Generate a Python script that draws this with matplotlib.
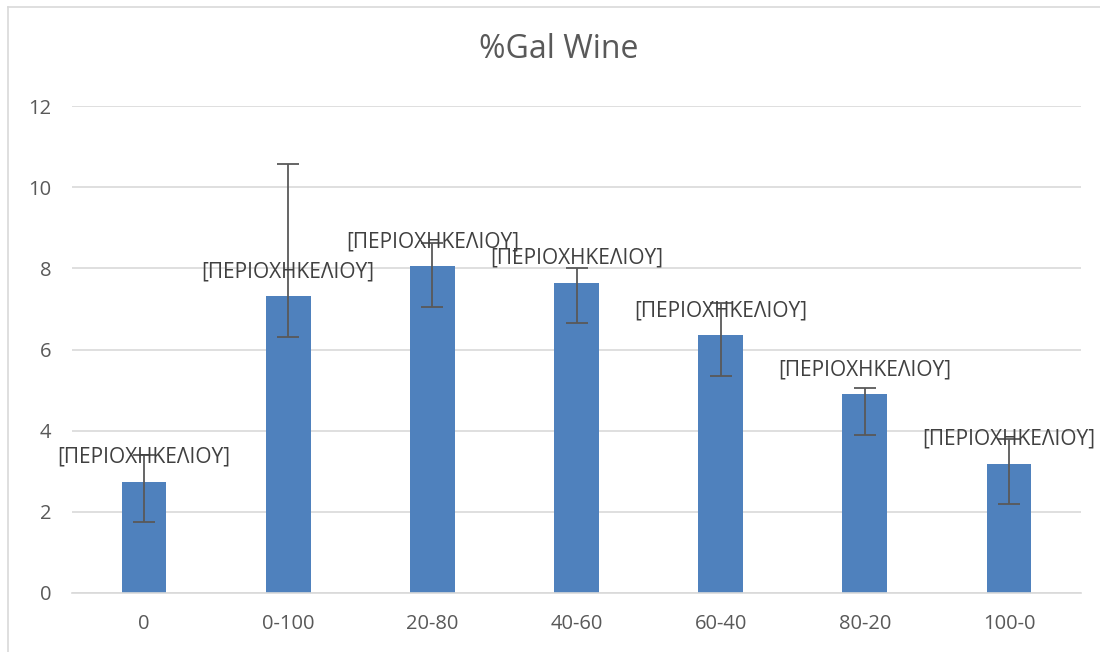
import matplotlib
matplotlib.use("Agg")
import matplotlib.pyplot as plt
from matplotlib.lines import Line2D
import numpy as np

categories = ["0", "0-100", "20-80", "40-60", "60-40", "80-20", "100-0"]
values = [2.74, 7.31, 8.05, 7.65, 6.35, 4.90, 3.19]
err_low = [1.0, 1.0, 1.0, 1.0, 1.0, 1.0, 1.0]
err_high = [0.67, 3.25, 0.58, 0.35, 0.80, 0.14, 0.60]
label_text = "[ΠΕΡΙΟΧΗΚΕΛΙΟΥ]"
title = "%Gal Wine"

plt.rcParams["font.family"] = ["Open Sans", "DejaVu Sans"]

W, H = 1100, 652
fig = plt.figure(figsize=(W / 100, H / 100), dpi=100)
ax = fig.add_axes([72 / W, 59 / H, (1081 - 72) / W, (593 - 106) / H])

x = np.arange(len(categories))
ax.bar(x, values, width=0.31, color="#4F81BD", zorder=2)
ax.errorbar(x, values, yerr=[err_low, err_high], fmt="none",
            ecolor="#595959", elinewidth=1.3, capsize=8, capthick=1.3, zorder=3)

for xi, v in zip(x, values):
    ax.annotate(label_text, (xi, v), xytext=(0, 10), textcoords="offset points",
                ha="center", va="bottom", fontsize=15, color="#404040", zorder=4)

ax.set_xlim(-0.5, len(categories) - 0.5)
ax.set_ylim(0, 12)
ax.set_yticks(range(0, 13, 2))
ax.set_xticks(x)
ax.set_xticklabels(categories)
ax.yaxis.grid(True, color="#D9D9D9", linewidth=1.2, zorder=0)
ax.set_axisbelow(True)
for s in ["top", "right", "left"]:
    ax.spines[s].set_visible(False)
ax.spines["bottom"].set_color("#D9D9D9")
ax.spines["bottom"].set_linewidth(1.2)
ax.tick_params(axis="both", length=0, labelsize=14.5, labelcolor="#595959")
ax.tick_params(axis="y", pad=15)
ax.tick_params(axis="x", pad=15)

fig.text(559 / W, 1 - 50 / H, title, ha="center", va="center",
         fontsize=23, color="#595959")

# chart frame
fig.add_artist(Line2D([8 / W, 8 / W], [0, 1 - 7 / H], color="#D9D9D9", linewidth=1.2))
fig.add_artist(Line2D([8 / W, 1], [1 - 7 / H, 1 - 7 / H], color="#D9D9D9", linewidth=1.2))

fig.savefig("out.png", dpi=100)
